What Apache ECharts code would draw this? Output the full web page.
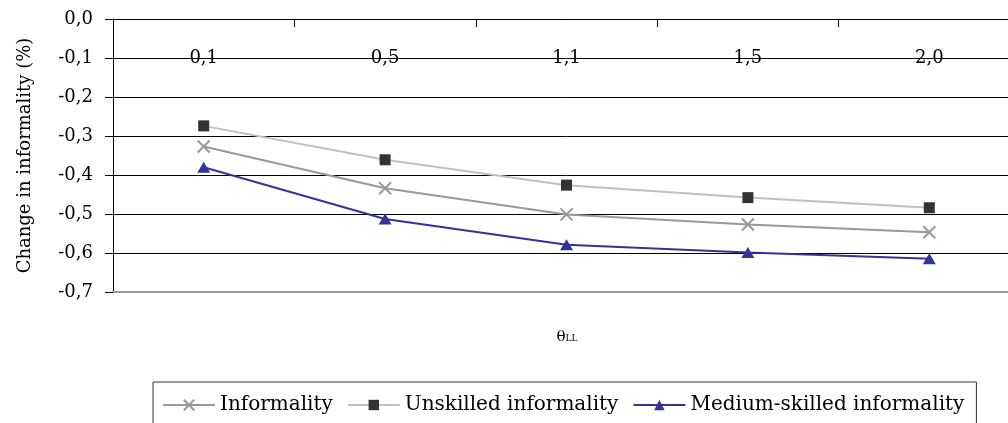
<!DOCTYPE html>
<html>
<head>
<meta charset="utf-8">
<script src="https://cdn.jsdelivr.net/npm/echarts@6/dist/echarts.min.js"></script>
<style>
html,body{margin:0;padding:0;background:#fff;overflow:hidden;width:1008px;height:423px;}
#chart{width:1020px;height:423px;}
</style>
</head>
<body>
<div id="chart"></div>
<script>
const categories = ['0,1', '0,5', '1,1', '1,5', '2,0'];
const informality = [-0.327, -0.434, -0.501, -0.527, -0.547];
const unskilled = [-0.274, -0.361, -0.426, -0.458, -0.484];
const mediumSkilled = [-0.380, -0.513, -0.579, -0.599, -0.615];
const seriesNames = ['Informality', 'Unskilled informality', 'Medium-skilled informality'];
const yTickLabels = ['-0,7', '-0,6', '-0,5', '-0,4', '-0,3', '-0,2', '-0,1', '0,0'];

const FONT = 'DejaVu Serif';
const chart = echarts.init(document.getElementById('chart'));
chart.setOption({
  animation: false,
  backgroundColor: '#fff',
  textStyle: { fontFamily: FONT, color: '#000' },
  grid: { left: 113, top: 19, right: 0, bottom: 131 },
  xAxis: [{
    type: 'category',
    position: 'top',
    data: categories,
    boundaryGap: true,
    axisLine: { lineStyle: { color: '#000', width: 1 } },
    axisTick: { show: true, inside: true, length: 8, lineStyle: { color: '#000' } },
    axisLabel: { inside: true, margin: 30, fontFamily: FONT, fontSize: 18, color: '#000' },
    splitLine: { show: false }
  }, {
    type: 'category',
    position: 'bottom',
    data: categories,
    boundaryGap: true,
    axisLine: { show: true, lineStyle: { color: '#999', width: 2 } },
    axisTick: { show: false },
    axisLabel: { show: false },
    splitLine: { show: false }
  }],
  yAxis: {
    type: 'value',
    min: -0.7,
    max: 0,
    interval: 0.1,
    name: 'Change in informality (%)',
    nameLocation: 'middle',
    nameGap: 79,
    nameTextStyle: { fontFamily: FONT, fontSize: 18, color: '#000' },
    axisLine: { show: true, lineStyle: { color: '#000', width: 1 } },
    axisTick: { show: true, length: 8, lineStyle: { color: '#000' } },
    axisLabel: {
      margin: 20, fontFamily: FONT, fontSize: 18, color: '#000',
      formatter: function (v) { return yTickLabels[Math.round((v + 0.7) * 10)]; }
    },
    splitLine: { show: true, lineStyle: { color: ['#999', '#000', '#000', '#000', '#000', '#000', '#000', '#000'], width: 1 } }
  },
  legend: {
    left: 153,
    top: 382,
    orient: 'horizontal',
    borderColor: '#333',
    borderWidth: 1,
    padding: [13, 12, 12, 9],
    itemWidth: 52,
    itemHeight: 13,
    itemGap: 14,
    textStyle: { fontFamily: FONT, fontSize: 20, color: '#000' },
    data: seriesNames
  },
  graphic: [{
    type: 'text',
    x: 567,
    y: 337,
    style: {
      text: '{a|θ}{b|LL}',
      align: 'center',
      verticalAlign: 'middle',
      rich: {
        a: { fontFamily: FONT, fontSize: 15, fill: '#000' },
        b: { fontFamily: FONT, fontSize: 9, fill: '#000', padding: [3, 0, 0, 0] }
      }
    }
  }],
  series: [
    {
      name: seriesNames[0],
      type: 'line',
      data: informality,
      symbol: 'path://M0,0L10,10M0,10L10,0',
      symbolSize: 12,
      lineStyle: { color: '#999', width: 2 },
      itemStyle: { color: '#999', borderColor: '#999', borderWidth: 2 }
    },
    {
      name: seriesNames[1],
      type: 'line',
      data: unskilled,
      symbol: 'rect',
      symbolSize: 11,
      lineStyle: { color: '#c0c0c0', width: 2 },
      itemStyle: { color: '#333', borderWidth: 0 }
    },
    {
      name: seriesNames[2],
      type: 'line',
      data: mediumSkilled,
      symbol: 'triangle',
      symbolSize: [13, 11],
      lineStyle: { color: '#333399', width: 2 },
      itemStyle: { color: '#333399', borderWidth: 0 }
    }
  ]
});
</script>
</body>
</html>
